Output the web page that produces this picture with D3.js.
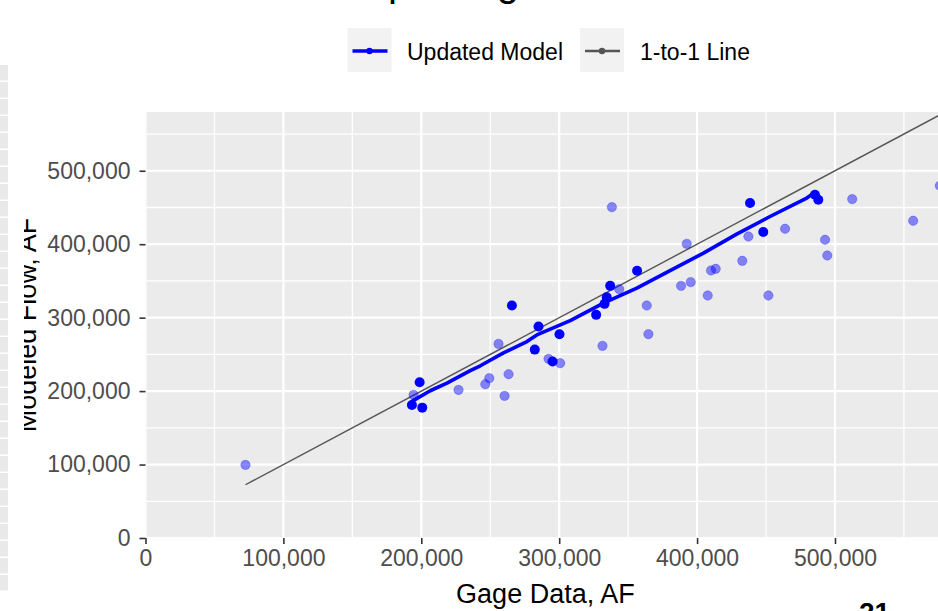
<!DOCTYPE html>
<html>
<head>
<meta charset="utf-8">
<script src="https://cdn.jsdelivr.net/npm/d3@7"></script>
<style>
  html, body { margin: 0; padding: 0; background: #fff; overflow: hidden; }
  text { font-family: "Liberation Sans", Arial, sans-serif; }
</style>
</head>
<body>
<svg id="chart" width="938" height="611"></svg>
<script>
// ---- data ----
const xTicks = [0, 100000, 200000, 300000, 400000, 500000];
const yTicks = [0, 100000, 200000, 300000, 400000, 500000];
const legendLabels = ["Updated Model", "1-to-1 Line"];

// Years run with the updated model (solid points)
const updatedGage = [198800, 193200, 200700, 265700, 285000, 282300, 295200, 300200,
  326800, 332900, 334500, 337000, 356500, 438400, 448000, 485500, 487900];
const updatedModeled = [212100, 181200, 177500, 316500, 287900, 256500, 240200, 277500,
  303800, 318800, 327900, 343300, 363800, 456000, 416500, 467300, 460500];

// Remaining years (translucent points)
const otherGage = [72500, 194400, 227000, 246400, 249300, 260400, 263300, 256000, 292300,
  300700, 331400, 343500, 338200, 363500, 364700, 392500, 388400, 395400, 407700, 410100,
  413500, 432800, 437200, 451700, 463800, 492800, 494400, 512500, 556700, 576000];
const otherModeled = [99500, 194800, 201600, 209400, 217600, 193500, 223000, 264300, 243900,
  238000, 261600, 338800, 450500, 316500, 277500, 400500, 343300, 348400, 330100, 364200,
  366500, 377400, 410500, 330100, 421000, 406000, 384600, 461400, 431900, 479600];

// Updated model trend through the gage record
const trendGage = [193500, 206500, 218600, 235500, 242800, 259600, 276600, 283800, 308000,
  332100, 356300, 380400, 404600, 428700, 452900, 479500, 484800, 487900];
const trendModeled = [186300, 200500, 210800, 227800, 234500, 252000, 267400, 276500, 296000,
  319800, 340200, 364000, 387900, 413800, 437700, 462800, 469600, 460500];

// 1-to-1 reference line spans the gage record
const oneToOneExtent = [72500, 580000];

// ---- layout ----
const svg = d3.select("#chart");
const panel = { left: 145.5, top: 112, right: 945.3, bottom: 538 };

const x = d3.scaleLinear().domain([0, 580000]).range([panel.left, panel.right]);
const y = d3.scaleLinear().domain([0, 580000]).range([panel.bottom, panel.top]);
const fmt = d3.format(",");

svg.append("rect").attr("width", 938).attr("height", 611).attr("fill", "#fff");

// title
svg.append("text")
  .attr("x", 359).attr("y", -4.4)
  .attr("font-size", 40).attr("fill", "#000")
  .text("Updating Model Flow");

// panel background
svg.append("defs").append("clipPath").attr("id", "panelClip")
  .append("rect")
  .attr("x", panel.left).attr("y", panel.top)
  .attr("width", panel.right - panel.left).attr("height", panel.bottom - panel.top);

svg.append("rect")
  .attr("x", panel.left).attr("y", panel.top)
  .attr("width", panel.right - panel.left).attr("height", panel.bottom - panel.top)
  .attr("fill", "#EBEBEB");

const grid = svg.append("g").attr("clip-path", "url(#panelClip)");
const minorX = d3.range(50000, 580000, 100000);
const minorY = d3.range(50000, 580000, 100000);
grid.selectAll(".gxm").data(minorX).join("line")
  .attr("x1", d => x(d)).attr("x2", d => x(d))
  .attr("y1", panel.top).attr("y2", panel.bottom)
  .attr("stroke", "#fff").attr("stroke-width", 1.3);
grid.selectAll(".gym").data(minorY).join("line")
  .attr("y1", d => y(d)).attr("y2", d => y(d))
  .attr("x1", panel.left).attr("x2", panel.right)
  .attr("stroke", "#fff").attr("stroke-width", 1.3);
grid.selectAll(".gx").data(xTicks).join("line")
  .attr("x1", d => x(d)).attr("x2", d => x(d))
  .attr("y1", panel.top).attr("y2", panel.bottom)
  .attr("stroke", "#fff").attr("stroke-width", 2.2);
grid.selectAll(".gy").data(yTicks).join("line")
  .attr("y1", d => y(d)).attr("y2", d => y(d))
  .attr("x1", panel.left).attr("x2", panel.right)
  .attr("stroke", "#fff").attr("stroke-width", 2.2);

// marks
const marks = svg.append("g").attr("clip-path", "url(#panelClip)");

marks.append("path")
  .datum(oneToOneExtent)
  .attr("d", d3.line().x(d => x(d)).y(d => y(d)))
  .attr("fill", "none").attr("stroke", "#555").attr("stroke-width", 1.4);

marks.append("path")
  .datum(d3.range(trendGage.length))
  .attr("d", d3.line().x(i => x(trendGage[i])).y(i => y(trendModeled[i])))
  .attr("fill", "none").attr("stroke", "#0000FF").attr("stroke-width", 3.6)
  .attr("stroke-linejoin", "round").attr("stroke-linecap", "round");

marks.selectAll(".other").data(d3.range(otherGage.length)).join("circle")
  .attr("cx", i => x(otherGage[i])).attr("cy", i => y(otherModeled[i]))
  .attr("r", 4.7)
  .attr("fill", "rgba(0,0,255,0.45)")
  .attr("stroke", "rgba(0,0,255,0.25)").attr("stroke-width", 1);

marks.selectAll(".upd").data(d3.range(updatedGage.length)).join("circle")
  .attr("cx", i => x(updatedGage[i])).attr("cy", i => y(updatedModeled[i]))
  .attr("r", 5).attr("fill", "#0000FF");

// axes
const xAxis = svg.append("g").attr("transform", `translate(0,${panel.bottom})`)
  .call(d3.axisBottom(x).tickValues(xTicks).tickFormat(fmt).tickSize(6).tickPadding(6));
const yAxis = svg.append("g").attr("transform", `translate(${panel.left},0)`)
  .call(d3.axisLeft(y).tickValues(yTicks).tickFormat(fmt).tickSize(6).tickPadding(9));
[xAxis, yAxis].forEach(a => {
  a.select(".domain").remove();
  a.selectAll(".tick line").attr("stroke", "#333").attr("stroke-width", 1.6);
  a.selectAll(".tick text").attr("fill", "#4D4D4D").attr("font-size", 23)
    .style("font-family", "'Liberation Sans', Arial, sans-serif");
});

// axis titles
svg.append("text")
  .attr("x", (panel.left + panel.right) / 2).attr("y", 603)
  .attr("text-anchor", "middle").attr("font-size", 27).attr("fill", "#000")
  .text("Gage Data, AF");
svg.append("text")
  .attr("transform", `translate(36,${(panel.top + panel.bottom) / 2}) rotate(-90)`)
  .attr("text-anchor", "middle").attr("font-size", 27).attr("fill", "#000")
  .text("Modeled Flow, AF");

// legend
const legend = svg.append("g");
const keyX = [347.5, 580];
const textX = [407, 640];
const keyColors = ["#0000FF", "#555555"];
const keyWidths = [3.4, 2.6];
legendLabels.forEach((label, i) => {
  legend.append("rect").attr("x", keyX[i]).attr("y", 28).attr("width", 44).attr("height", 44)
    .attr("fill", "#F2F2F2");
  legend.append("line").attr("x1", keyX[i] + 5).attr("x2", keyX[i] + 40)
    .attr("y1", 51).attr("y2", 51)
    .attr("stroke", keyColors[i]).attr("stroke-width", keyWidths[i]);
  legend.append("circle").attr("cx", keyX[i] + 22).attr("cy", 51).attr("r", 3.2)
    .attr("fill", keyColors[i]);
  legend.append("text").attr("x", textX[i]).attr("y", 60)
    .attr("font-size", 23).attr("fill", "#000").text(label);
});

// page margin: neighbouring table column on the left
svg.append("rect").attr("x", 8).attr("y", 0).attr("width", 16).attr("height", 611).attr("fill", "#fff");
svg.append("rect").attr("x", 0).attr("y", 0).attr("width", 8).attr("height", 611).attr("fill", "#fff");
const cellTops = d3.range(65, 590, 17);
svg.selectAll(".cell").data(cellTops).join("rect")
  .attr("x", 0).attr("y", d => d).attr("width", 8).attr("height", 15.5)
  .attr("fill", "#E9E9E9");

// page number
svg.append("text")
  .attr("x", 859).attr("y", 622)
  .attr("font-size", 28).attr("font-weight", "bold").attr("fill", "#000")
  .text("21");
</script>
</body>
</html>
